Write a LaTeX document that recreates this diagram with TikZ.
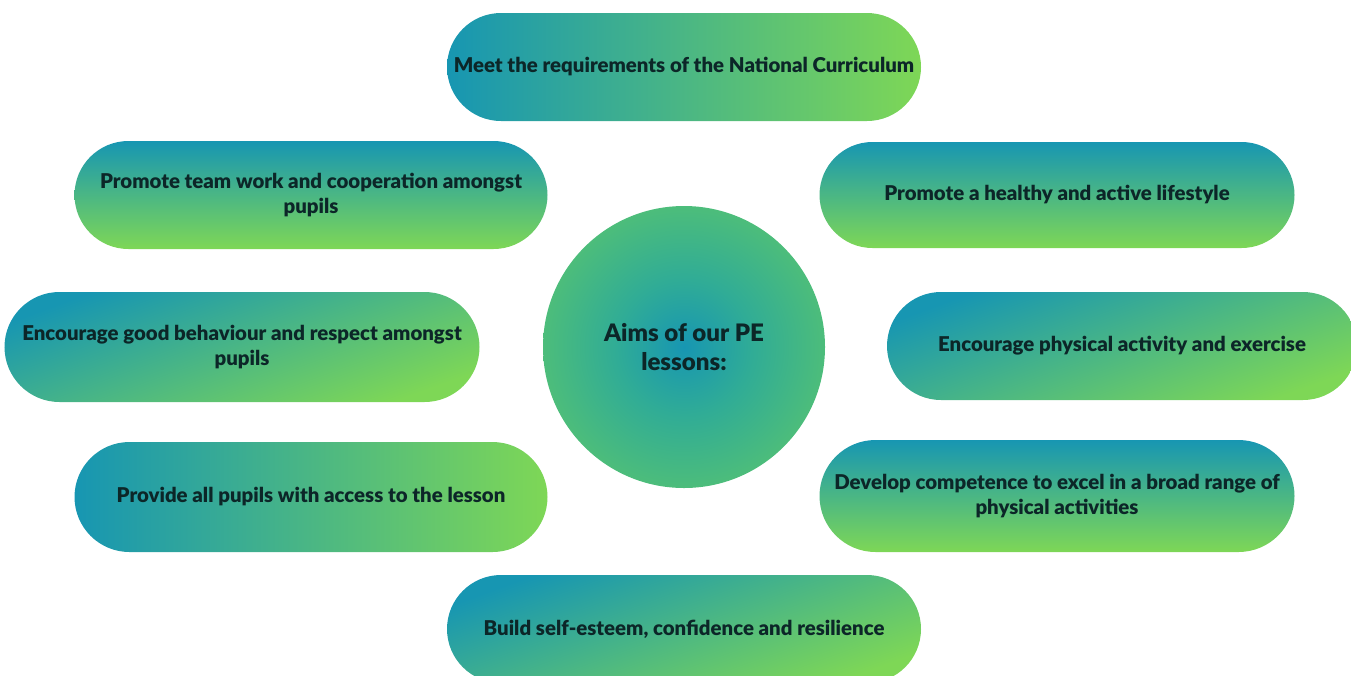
\documentclass[tikz,border=0pt]{standalone}
\usepackage{fontspec}
\setmainfont{Lato}[BoldFont={* Black}]
\usetikzlibrary{shapes.misc}

\definecolor{aimteal}{RGB}{23,150,178}
\definecolor{aimmid}{RGB}{48,172,150}
\definecolor{aimgreen}{RGB}{126,215,86}
\definecolor{aimedge}{RGB}{92,198,108}
\definecolor{aimtext}{RGB}{12,38,40}

% radial fill for the centre disc
\pgfdeclareradialshading{aimhub}{\pgfpoint{0bp}{0bp}}{color(0bp)=(aimteal); color(12bp)=(aimmid); color(32bp)=(aimedge); color(50bp)=(aimedge)}

\begin{document}
\begin{tikzpicture}[
    pill/.style={rounded rectangle, minimum height=2.16cm, inner sep=0pt, align=center,
                 text=aimtext, font=\fontsize{11.6}{13.8}\selectfont\bfseries},
    across/.style={left color=aimteal, right color=aimgreen},
    down/.style={top color=aimteal, bottom color=aimgreen},
    slant/.style={top color=aimteal, bottom color=aimgreen, shading angle=20}]

    \useasboundingbox (0,0) rectangle (27.02,-13.5);

    %cerchio centrale
    \node (aims) at (13.68,-6.94)[circle, minimum size=5.64cm, shading=aimhub, align=center,
        text=aimtext, font=\fontsize{13.7}{16.4}\selectfont\bfseries]{Aims of our PE\\lessons:};

    %colonna centrale
    \node (curriculum) at (13.68,-1.34)[pill, across, minimum width=9.48cm]{Meet the requirements of the National Curriculum};
    \node (esteem) at (13.68,-12.58)[pill, slant, minimum width=9.48cm]{Build self-esteem, confidence and resilience};

    %lato sinistro
    \node (teamwork) at (6.22,-3.9)[pill, down, minimum width=9.46cm]{Promote team work and cooperation amongst\\pupils};
    \node (behaviour) at (4.84,-6.94)[pill, slant, minimum width=9.5cm, minimum height=2.2cm]{Encourage good behaviour and respect amongst\\pupils};
    \node (access) at (6.22,-9.94)[pill, across, minimum width=9.46cm, minimum height=2.2cm]{Provide all pupils with access to the lesson};

    %lato destro
    \node (lifestyle) at (21.14,-3.9)[pill, down, minimum width=9.5cm, minimum height=2.12cm]{Promote a healthy and active lifestyle};
    \node (activity) at (22.44,-6.92)[pill, slant, minimum width=9.4cm]{Encourage physical activity and exercise};
    \node (competence) at (21.14,-9.92)[pill, down, minimum width=9.5cm, minimum height=2.24cm]{Develop competence to excel in a broad range of\\physical activities};
\end{tikzpicture}
\end{document}
